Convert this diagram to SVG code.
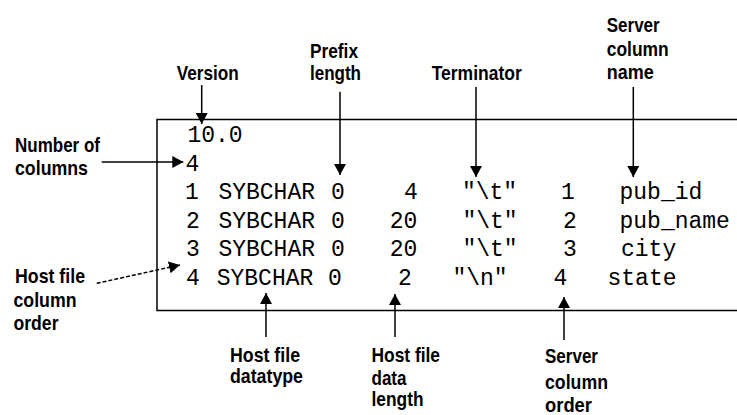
<svg xmlns="http://www.w3.org/2000/svg" width="737" height="415" viewBox="0 0 737 415">
<defs>
<style>
.lbl{font-family:"Liberation Sans Narrow","Liberation Sans",Arial,sans-serif;font-weight:bold;font-size:20.5px;fill:#000}
.mono{font-family:"Liberation Mono","Courier New",monospace;font-size:23px;fill:#000}
.c{text-anchor:middle}
.ln{stroke:#000;stroke-width:1.5;fill:none}
.dash{stroke-dasharray:4 2}
</style>
<marker id="ah" viewBox="0 0 11 12" refX="11" refY="6" markerWidth="11" markerHeight="12" markerUnits="userSpaceOnUse" orient="auto">
<path d="M0,0 L11,6 L0,12 z" fill="#000"/>
</marker>
</defs>
<rect width="737" height="415" fill="#fff"/>

<g id="format-box">
<path class="ln" d="M737,119.5 H157 V310.5 H737"/>
<g id="row-version"><text class="mono c" x="215" y="142">10.0</text></g>
<g id="row-count"><text class="mono c" x="192.5" y="170.5">4</text></g>
<g id="row-1">
<text class="mono c" x="192" y="199">1</text>
<text class="mono c" x="266.7" y="199">SYBCHAR</text>
<text class="mono c" x="338" y="199">0</text>
<text class="mono c" x="411" y="199">4</text>
<text class="mono c" x="489.5" y="199">"\t"</text>
<text class="mono c" x="568" y="199">1</text>
<text class="mono" x="619.5" y="199">pub_id</text>
</g>
<g id="row-2">
<text class="mono c" x="193" y="227.5">2</text>
<text class="mono c" x="266.7" y="227.5">SYBCHAR</text>
<text class="mono c" x="338" y="227.5">0</text>
<text class="mono c" x="403.5" y="227.5">20</text>
<text class="mono c" x="490" y="227.5">"\t"</text>
<text class="mono c" x="570" y="227.5">2</text>
<text class="mono" x="619.5" y="227.5">pub_name</text>
</g>
<g id="row-3">
<text class="mono c" x="193" y="256">3</text>
<text class="mono c" x="266.7" y="256">SYBCHAR</text>
<text class="mono c" x="338" y="256">0</text>
<text class="mono c" x="403.5" y="256">20</text>
<text class="mono c" x="490" y="256">"\t"</text>
<text class="mono c" x="570" y="256">3</text>
<text class="mono" x="621" y="256">city</text>
</g>
<g id="row-4">
<text class="mono c" x="193" y="284.5">4</text>
<text class="mono c" x="265" y="284.5">SYBCHAR</text>
<text class="mono c" x="335" y="284.5">0</text>
<text class="mono c" x="405" y="284.5">2</text>
<text class="mono c" x="480" y="284.5">"\n"</text>
<text class="mono c" x="560.5" y="284.5">4</text>
<text class="mono" x="607.5" y="284.5">state</text>
</g>
</g>

<g id="lbl-version"><text class="lbl" x="176.7" y="80" textLength="62" lengthAdjust="spacingAndGlyphs">Version</text></g>
<g id="lbl-prefix-length">
<text class="lbl" x="310" y="58" textLength="48" lengthAdjust="spacingAndGlyphs">Prefix</text>
<text class="lbl" x="310" y="80" textLength="51" lengthAdjust="spacingAndGlyphs">length</text>
</g>
<g id="lbl-terminator"><text class="lbl" x="431.7" y="80" textLength="90" lengthAdjust="spacingAndGlyphs">Terminator</text></g>
<g id="lbl-server-column-name">
<text class="lbl" x="606.7" y="32" textLength="53" lengthAdjust="spacingAndGlyphs">Server</text>
<text class="lbl" x="606.7" y="55.5" textLength="62" lengthAdjust="spacingAndGlyphs">column</text>
<text class="lbl" x="606.7" y="79" textLength="47" lengthAdjust="spacingAndGlyphs">name</text>
</g>
<g id="lbl-number-of-columns">
<text class="lbl" x="15" y="152" textLength="85" lengthAdjust="spacingAndGlyphs">Number of</text>
<text class="lbl" x="15" y="175" textLength="73" lengthAdjust="spacingAndGlyphs">columns</text>
</g>
<g id="lbl-host-file-column-order">
<text class="lbl" x="15" y="283" textLength="70" lengthAdjust="spacingAndGlyphs">Host file</text>
<text class="lbl" x="13.5" y="306.5" textLength="63" lengthAdjust="spacingAndGlyphs">column</text>
<text class="lbl" x="13.5" y="330" textLength="45" lengthAdjust="spacingAndGlyphs">order</text>
</g>
<g id="lbl-host-file-datatype">
<text class="lbl" x="230" y="361.7" textLength="70" lengthAdjust="spacingAndGlyphs">Host file</text>
<text class="lbl" x="230" y="383" textLength="73" lengthAdjust="spacingAndGlyphs">datatype</text>
</g>
<g id="lbl-host-file-data-length">
<text class="lbl" x="371.5" y="362" textLength="68.5" lengthAdjust="spacingAndGlyphs">Host file</text>
<text class="lbl" x="371.5" y="384.5" textLength="35" lengthAdjust="spacingAndGlyphs">data</text>
<text class="lbl" x="371.5" y="405.5" textLength="52" lengthAdjust="spacingAndGlyphs">length</text>
</g>
<g id="lbl-server-column-order">
<text class="lbl" x="545" y="363.3" textLength="53" lengthAdjust="spacingAndGlyphs">Server</text>
<text class="lbl" x="545" y="389" textLength="63" lengthAdjust="spacingAndGlyphs">column</text>
<text class="lbl" x="545" y="411.5" textLength="47" lengthAdjust="spacingAndGlyphs">order</text>
</g>

<g id="connectors">
<line class="ln" x1="201.7" y1="85" x2="201.7" y2="124" marker-end="url(#ah)"/>
<line class="ln" x1="340" y1="91.7" x2="340" y2="175" marker-end="url(#ah)"/>
<line class="ln" x1="476" y1="87" x2="476" y2="177" marker-end="url(#ah)"/>
<line class="ln" x1="633.3" y1="87" x2="633.3" y2="177" marker-end="url(#ah)"/>
<line class="ln" x1="101.7" y1="162" x2="183.3" y2="162" marker-end="url(#ah)"/>
<line class="ln dash" x1="96.7" y1="283.3" x2="180" y2="265" marker-end="url(#ah)"/>
<line class="ln" x1="266" y1="337" x2="266" y2="293" marker-end="url(#ah)"/>
<line class="ln" x1="395" y1="337" x2="395" y2="294" marker-end="url(#ah)"/>
<line class="ln" x1="564" y1="340" x2="564" y2="297" marker-end="url(#ah)"/>
</g>
</svg>
